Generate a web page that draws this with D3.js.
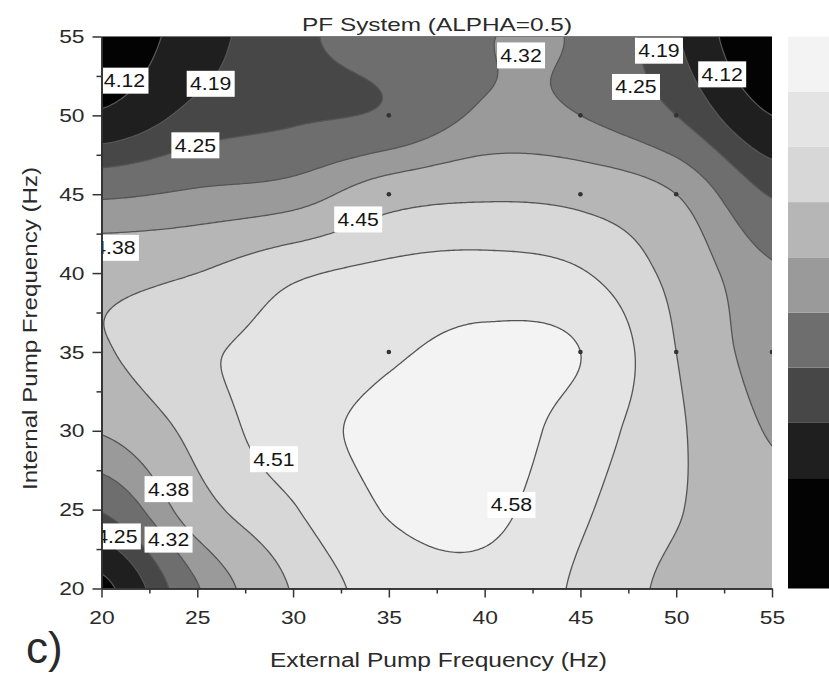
<!DOCTYPE html>
<html>
<head>
<meta charset="utf-8">
<script src="https://cdn.jsdelivr.net/npm/d3@7"></script>
<style>
  body { margin: 0; background: #fff; }
  svg { display: block; }
  text { font-family: "Liberation Sans", Arial, sans-serif; }
</style>
</head>
<body>
<svg id="chart" width="829" height="675"></svg>
<script>
// Grid of external pump frequencies (Hz), left to right
const externalHz = [20, 25, 30, 35, 40, 45, 50, 55];
// Grid of internal pump frequencies (Hz), top row first
const internalHz = [55, 50, 45, 40, 35, 30, 25, 20];
// PF response, one row per internal frequency (same order as internalHz)
const pfRow55 = [4.06, 4.16, 4.235, 4.28, 4.318, 4.312, 4.195, 4.04];
const pfRow50 = [4.13, 4.21, 4.24, 4.26, 4.33, 4.32, 4.25, 4.12];
const pfRow45 = [4.31, 4.33, 4.35, 4.42, 4.44, 4.43, 4.38, 4.245];
const pfRow40 = [4.43, 4.45, 4.50, 4.525, 4.535, 4.515, 4.43, 4.33];
const pfRow35 = [4.445, 4.50, 4.53, 4.57, 4.60, 4.58, 4.45, 4.35];
const pfRow30 = [4.385, 4.47, 4.55, 4.60, 4.62, 4.545, 4.46, 4.375];
const pfRow25 = [4.255, 4.42, 4.505, 4.585, 4.60, 4.52, 4.455, 4.40];
const pfRow20 = [4.10, 4.315, 4.455, 4.54, 4.56, 4.50, 4.435, 4.41];
const pfRows = [pfRow55, pfRow50, pfRow45, pfRow40, pfRow35, pfRow30, pfRow25, pfRow20];

// Contour levels and the fill used for each band (lowest band first)
const levels = [4.12, 4.19, 4.25, 4.32, 4.38, 4.45, 4.51, 4.58];
const bandColors = ["#030303", "#1f1f1f", "#474747", "#6e6e6e", "#9a9a9a", "#b6b6b6", "#d7d7d7", "#e4e4e4", "#f3f3f3"];

// Contour labels: level and where along its line it is written (Hz, Hz)
const labelLevel = [4.12, 4.19, 4.25, 4.32, 4.19, 4.25, 4.12, 4.45, 4.38, 4.51, 4.38, 4.25, 4.32, 4.58];
const labelX     = [21.2, 25.7, 24.9, 41.9, 49.1, 47.9, 52.4, 33.4, 20.7, 29.0, 23.5, 20.8, 23.5, 41.4];
const labelY     = [52.2, 52.0, 48.1, 53.8, 54.1, 51.8, 52.6, 43.4, 41.6, 28.2, 26.3, 23.3, 23.1, 25.3];

// Measured operating points
const sampleX = [35, 45, 50, 35, 45, 50, 35, 45, 50, 55];
const sampleY = [50, 50, 50, 45, 45, 45, 35, 35, 35, 35];

// Axis ticks
const majorTicks = [20, 25, 30, 35, 40, 45, 50, 55];
const minorTicks = [22.5, 27.5, 32.5, 37.5, 42.5, 47.5, 52.5];

const svg = d3.select("#chart");
const box = { left: 101.5, right: 772, top: 36.5, bottom: 588.5 };
const xScale = d3.scaleLinear().domain([20, 55]).range([box.left, box.right]);
const yScale = d3.scaleLinear().domain([20, 55]).range([box.bottom, box.top]);

svg.append("rect").attr("width", 829).attr("height", 675).attr("fill", "#fff");

// stretch text horizontally to the wide lettering of the figure
function stretch(sel, k) {
  sel.each(function () {
    const w = this.getComputedTextLength();
    d3.select(this).attr("textLength", w * k).attr("lengthAdjust", "spacingAndGlyphs");
  });
}

// ---- smooth surface through the grid (Catmull-Rom in both directions)
const nCols = externalHz.length, nRows = internalHz.length;
const gridAt = (r, c) => pfRows[Math.max(0, Math.min(nRows - 1, r))][Math.max(0, Math.min(nCols - 1, c))];
function cr(p0, p1, p2, p3, t) {
  return p1 + 0.5 * t * (p2 - p0 + t * (2 * p0 - 5 * p1 + 4 * p2 - p3 + t * (3 * (p1 - p2) + p3 - p0)));
}
function surface(u, v) {
  const i = Math.max(0, Math.min(nCols - 2, Math.floor(u)));
  const j = Math.max(0, Math.min(nRows - 2, Math.floor(v)));
  const t = u - i, s = v - j;
  const rows = [-1, 0, 1, 2].map(k =>
    cr(gridAt(j + k, i - 1), gridAt(j + k, i), gridAt(j + k, i + 1), gridAt(j + k, i + 2), t));
  return cr(rows[0], rows[1], rows[2], rows[3], s);
}

const xSpan = externalHz[nCols - 1] - externalHz[0];
const gridStep = externalHz[1] - externalHz[0];
const n = 281;
const step = xSpan / (n - 1);
const values = new Float64Array(n * n);
for (let j = 0; j < n; j++) {
  for (let i = 0; i < n; i++) {
    values[j * n + i] = surface(i * step / gridStep, j * step / gridStep);
  }
}
const contours = d3.contours().size([n, n]).thresholds(levels)(values);

const toScreen = d3.geoTransform({
  point(x, y) {
    this.stream.point(xScale(externalHz[0] + (x - 0.5) * step), yScale(internalHz[0] - (y - 0.5) * step));
  }
});
const path = d3.geoPath(toScreen);

const defs = svg.append("defs");
defs.append("clipPath").attr("id", "plotClip").append("rect")
  .attr("x", box.left).attr("y", box.top)
  .attr("width", box.right - box.left).attr("height", box.bottom - box.top);

const plot = svg.append("g").attr("clip-path", "url(#plotClip)");
plot.append("rect")
  .attr("x", box.left).attr("y", box.top)
  .attr("width", box.right - box.left).attr("height", box.bottom - box.top)
  .attr("fill", bandColors[0]);

plot.selectAll("path.band").data(contours).join("path")
  .attr("class", "band")
  .attr("d", path)
  .attr("fill", (d, k) => bandColors[k + 1]);

plot.selectAll("path.line").data(contours).join("path")
  .attr("class", "line")
  .attr("d", path)
  .attr("fill", "none")
  .attr("stroke", "#555")
  .attr("stroke-width", 1.3);

// operating points
plot.selectAll("circle.pt").data(sampleX).join("circle")
  .attr("class", "pt")
  .attr("cx", (d) => xScale(d))
  .attr("cy", (d, k) => yScale(sampleY[k]))
  .attr("r", 2.3)
  .attr("fill", "#333");

// contour labels
const fmt = d3.format(".2f");
const lab = plot.selectAll("g.lab").data(labelLevel).join("g")
  .attr("class", "lab")
  .attr("transform", (d, k) => `translate(${xScale(labelX[k])},${yScale(labelY[k])})`);
lab.append("rect").attr("x", -24).attr("y", -13).attr("width", 48).attr("height", 26).attr("fill", "#fff");
const labText = lab.append("text")
  .attr("text-anchor", "middle").attr("dy", "0.36em")
  .attr("font-size", 18).attr("fill", "#151515")
  .text(d => fmt(d));
stretch(labText, 1.18);

// top frame line
svg.append("line")
  .attr("x1", box.left).attr("x2", box.right).attr("y1", box.top).attr("y2", box.top)
  .attr("stroke", "#7a7a7a").attr("stroke-width", 1);

// ---- axes
function styleAxis(g) {
  g.selectAll(".domain").attr("stroke", "#333").attr("stroke-width", 1.6);
  g.selectAll(".tick line").attr("stroke", "#333").attr("stroke-width", 1.5);
  g.selectAll(".tick text").attr("fill", "#2a2a2a").attr("font-size", 19)
    .attr("font-family", '"Liberation Sans", Arial, sans-serif');
}
const xAxisG = svg.append("g").attr("transform", `translate(0,${box.bottom})`)
  .call(d3.axisBottom(xScale).tickValues(majorTicks).tickSize(9).tickSizeOuter(0).tickPadding(13).tickFormat(d3.format("d")));
styleAxis(xAxisG);
stretch(xAxisG.selectAll(".tick text"), 1.2);
const xMinorG = svg.append("g").attr("transform", `translate(0,${box.bottom})`)
  .call(d3.axisBottom(xScale).tickValues(minorTicks).tickSize(5).tickSizeOuter(0).tickFormat(""));
styleAxis(xMinorG);

const yAxisG = svg.append("g").attr("transform", `translate(${box.left},0)`)
  .call(d3.axisLeft(yScale).tickValues(majorTicks).tickSize(9).tickSizeOuter(0).tickPadding(8).tickFormat(d3.format("d")));
styleAxis(yAxisG);
stretch(yAxisG.selectAll(".tick text"), 1.2);
const yMinorG = svg.append("g").attr("transform", `translate(${box.left},0)`)
  .call(d3.axisLeft(yScale).tickValues(minorTicks).tickSize(5).tickSizeOuter(0).tickFormat(""));
styleAxis(yMinorG);

// ---- colour scale bar (bottom band spans two steps)
const barScale = d3.scaleLinear().domain([0, bandColors.length + 1]).range([box.bottom, box.top]);
svg.selectAll("rect.bar").data(bandColors).join("rect")
  .attr("class", "bar")
  .attr("x", 788).attr("width", 60)
  .attr("y", (d, k) => barScale(k === 0 ? 2 : k + 2))
  .attr("height", (d, k) => (k === 0 ? barScale(0) - barScale(2) : barScale(k + 1) - barScale(k + 2)))
  .attr("fill", d => d);

// ---- titles
svg.append("text").attr("x", 437).attr("y", 31).attr("text-anchor", "middle")
  .attr("font-size", 19).attr("fill", "#2a2a2a")
  .attr("textLength", 270).attr("lengthAdjust", "spacingAndGlyphs")
  .text("PF System (ALPHA=0.5)");

svg.append("text").attr("x", 438.5).attr("y", 667).attr("text-anchor", "middle")
  .attr("font-size", 19.5).attr("fill", "#2a2a2a")
  .attr("textLength", 337).attr("lengthAdjust", "spacingAndGlyphs")
  .text("External Pump Frequency (Hz)");

svg.append("text").attr("transform", "translate(37,328.5) rotate(-90)").attr("text-anchor", "middle")
  .attr("font-size", 19.5).attr("fill", "#2a2a2a")
  .attr("textLength", 323).attr("lengthAdjust", "spacingAndGlyphs")
  .text("Internal Pump Frequency (Hz)");

svg.append("text").attr("x", 26).attr("y", 663)
  .attr("font-size", 44).attr("fill", "#2a2a2a")
  .text("c)");
</script>
</body>
</html>
